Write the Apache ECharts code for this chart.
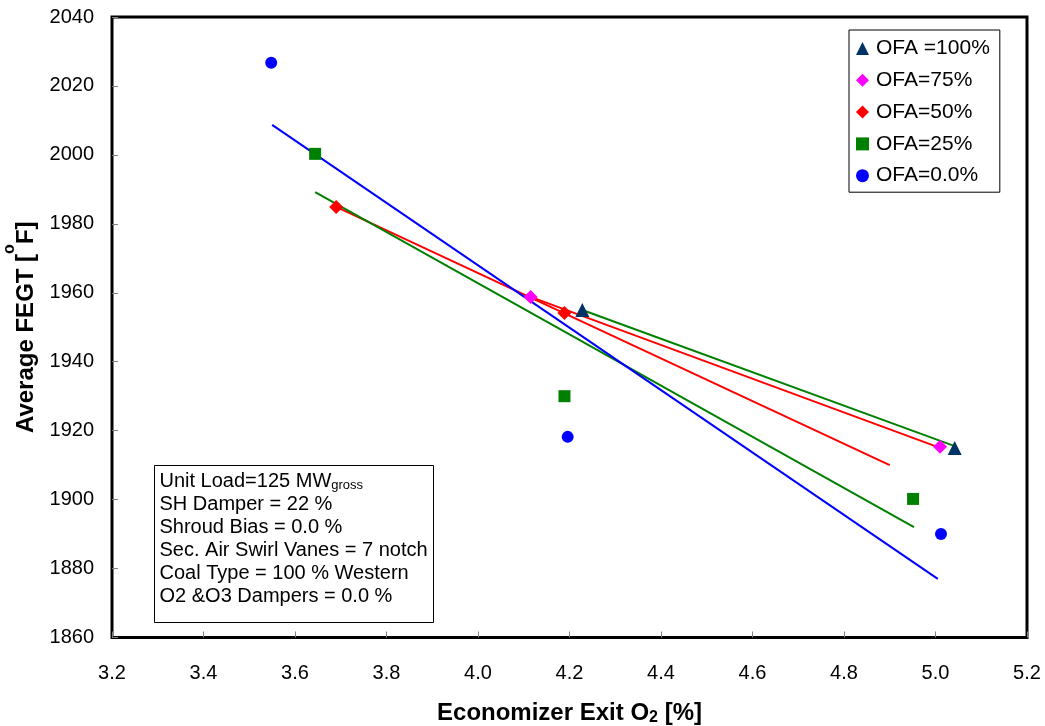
<!DOCTYPE html>
<html>
<head>
<meta charset="utf-8">
<script src="https://cdn.jsdelivr.net/npm/echarts@6/dist/echarts.min.js"></script>
<style>
html,body{margin:0;padding:0;background:#fff;}
#chart{width:1045px;height:726px;}
</style>
</head>
<body>
<div id="chart"></div>
<script>
// Axis ranges / ticks
var xTicks = [3.2, 3.4, 3.6, 3.8, 4.0, 4.2, 4.4, 4.6, 4.8, 5.0, 5.2];
var yTicks = [1860, 1880, 1900, 1920, 1940, 1960, 1980, 2000, 2020, 2040];

// Measured points [Economizer Exit O2 %, Average FEGT °F]
var ofa100 = [[4.228, 1955], [5.042, 1915]];
var ofa75  = [[4.115, 1958.8], [5.010, 1915.3]];
var ofa50  = [[3.690, 1984.9], [4.189, 1954.1]];
var ofa25  = [[3.644, 2000.3], [4.189, 1930.0], [4.951, 1900.2]];
var ofa0   = [[3.548, 2026.7], [4.196, 1918.2], [5.012, 1890.0]];

// Linear trend lines (endpoints)
var trend100 = [[4.228, 1955], [5.042, 1915.5]];
var trend75  = [[4.115, 1958.8], [5.010, 1915.0]];
var trend50  = [[3.690, 1984.9], [4.900, 1910.0]];
var trend25  = [[3.644, 1989.2], [4.953, 1892.0]];
var trend0   = [[3.550, 2008.7], [5.005, 1877.0]];

var seriesNames = ['OFA =100%', 'OFA=75%', 'OFA=50%', 'OFA=25%', 'OFA=0.0%'];
var infoLines = [
  '{t|Unit Load=125 MW}{s|gross}',
  '{t|SH Damper = 22 %}',
  '{t|Shroud Bias = 0.0 %}',
  '{t|Sec. Air Swirl Vanes = 7 notch}',
  '{t|Coal Type = 100 % Western}',
  '{t|O2 &O3 Dampers = 0.0 %}'
];

var FONT = 'Arial, "Liberation Sans", Helvetica, sans-serif';
var chart = echarts.init(document.getElementById('chart'), null, {renderer: 'canvas'});

function scatter(name, data, symbol, color, size) {
  return {
    name: name, type: 'scatter', data: data, symbol: symbol, symbolSize: size,
    itemStyle: {color: color, opacity: 1}, z: 5
  };
}
function trend(data, color) {
  return {
    type: 'line', data: data, symbol: 'none', silent: true,
    lineStyle: {color: color, width: 2}, z: 3
  };
}

var option = {
  backgroundColor: '#ffffff',
  animation: false,
  grid: {
    left: 112, right: 18, top: 17, bottom: 88.5,
    containLabel: false, outerBoundsMode: 'none',
    show: true, borderColor: '#000', borderWidth: 3, backgroundColor: 'transparent'
  },
  xAxis: {
    type: 'value', min: xTicks[0], max: xTicks[xTicks.length - 1], interval: 0.2,
    axisLine: {show: false},
    axisTick: {show: true, inside: true, length: 6, lineStyle: {color: '#808080', width: 1}},
    splitLine: {show: false},
    axisLabel: {
      color: '#000', fontFamily: FONT, fontSize: 20, margin: 26,
      formatter: function (v) { return v.toFixed(1); }
    },
    name: '{a|Economizer Exit O}{b|2}{a| [%]}',
    nameLocation: 'middle', nameGap: 60,
    nameTextStyle: {
      rich: {
        a: {fontFamily: FONT, fontSize: 24, fontWeight: 'bold', color: '#000', lineHeight: 28, verticalAlign: 'bottom'},
        b: {fontFamily: FONT, fontSize: 16, fontWeight: 'bold', color: '#000', lineHeight: 22, verticalAlign: 'bottom'}
      }
    }
  },
  yAxis: {
    type: 'value', min: yTicks[0], max: yTicks[yTicks.length - 1], interval: 20,
    axisLine: {show: false},
    axisTick: {show: true, inside: true, length: 6, lineStyle: {color: '#808080', width: 1}},
    splitLine: {show: false},
    axisLabel: {color: '#000', fontFamily: FONT, fontSize: 20, margin: 18,
      formatter: function (v) { return String(v); }},
    name: '{a|Average FEGT [}{b|o}{a|F]}',
    nameLocation: 'middle', nameGap: 74, nameRotate: 90,
    nameTextStyle: {
      rich: {
        a: {fontFamily: FONT, fontSize: 24, fontWeight: 'bold', color: '#000', lineHeight: 28, verticalAlign: 'bottom'},
        b: {fontFamily: FONT, fontSize: 16, fontWeight: 'bold', color: '#000', lineHeight: 36, verticalAlign: 'top'}
      }
    }
  },
  legend: {
    orient: 'vertical', left: 849, top: 30,
    width: 150,
    padding: [8, 10, 6, 7],
    backgroundColor: '#fff',
    borderColor: '#000', borderWidth: 1,
    itemWidth: 13, itemHeight: 13, itemGap: 10.8,
    textStyle: {fontFamily: FONT, fontSize: 21, color: '#000', lineHeight: 20, padding: [0, 0, 0, 2]},
    data: [
      {name: seriesNames[0], icon: 'triangle'},
      {name: seriesNames[1], icon: 'diamond'},
      {name: seriesNames[2], icon: 'diamond'},
      {name: seriesNames[3], icon: 'rect'},
      {name: seriesNames[4], icon: 'circle'}
    ]
  },
  graphic: [
    {
      type: 'group', left: 154, top: 465, z: 10,
      children: [
        {type: 'rect', shape: {x: 0, y: 0, width: 279, height: 157},
         style: {fill: '#fff', stroke: '#000', lineWidth: 1}},
        {type: 'text', x: 5, y: 3,
         style: {
           text: infoLines.join('\n'),
           rich: {
             t: {fontFamily: FONT, fontSize: 20, fill: '#000', lineHeight: 23, verticalAlign: 'bottom'},
             s: {fontFamily: FONT, fontSize: 13, fill: '#000', lineHeight: 18, verticalAlign: 'bottom'}
           }
         }}
      ]
    }
  ],
  series: [
    trend(trend100, '#008000'),
    trend(trend75, '#FF0000'),
    trend(trend50, '#FF0000'),
    trend(trend25, '#008000'),
    trend(trend0, '#0000FF'),
    scatter(seriesNames[0], ofa100, 'triangle', '#003366', 14),
    scatter(seriesNames[1], ofa75, 'diamond', '#FF00FF', 14),
    scatter(seriesNames[2], ofa50, 'diamond', '#FF0000', 14),
    scatter(seriesNames[3], ofa25, 'rect', '#008000', 12),
    scatter(seriesNames[4], ofa0, 'circle', '#0000FF', 12)
  ]
};
chart.setOption(option);
</script>
</body>
</html>
